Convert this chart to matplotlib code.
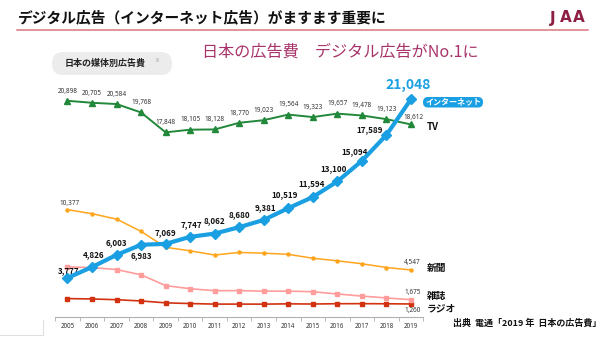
import matplotlib
matplotlib.use("Agg")
import matplotlib.pyplot as plt
from matplotlib.patches import FancyBboxPatch
from matplotlib.lines import Line2D

plt.rcParams['font.family'] = ['Noto Sans CJK JP', 'DejaVu Sans']

# data (dentsu, 100 million yen)
years = list(range(2005, 2020))
tv = [20898, 20705, 20584, 19768, 17848, 18105, 18128, 18770, 19023, 19564,
      19323, 19657, 19478, 19123, 18612]
internet = [3777, 4826, 6003, 6983, 7069, 7747, 8062, 8680, 9381, 10519,
            11594, 13100, 15094, 17589, 21048]
newspaper = [10377, 9986, 9462, 8276, 6739, 6396, 5990, 6242, 6170, 6057,
             5679, 5431, 5147, 4784, 4547]
magazine = [4842, 4777, 4585, 4078, 3034, 2733, 2542, 2551, 2499, 2500,
            2443, 2223, 2023, 1841, 1675]
radio = [1778, 1744, 1671, 1549, 1370, 1299, 1247, 1246, 1243, 1272,
         1254, 1285, 1290, 1278, 1260]

# label offsets for internet values (points)
net_off = [(1, 5), (1, 9), (0, 9), (0, -8), (0, 8), (1, 9), (0, 9), (0, 9),
           (1, 9), (-3, 10), (-1, 10), (-3, 9), (-5, 7), (-12, 4)]

W, H = 600, 338
fig = plt.figure(figsize=(W / 100, H / 100), dpi=100)
fig.patch.set_facecolor('white')
num_font = 'Noto Sans'
bold_font = 'Noto Sans CJK JP'


def fx(px):
    return px / W


def fy(py):
    return 1 - py / H


ax = fig.add_axes([fx(55.2), fy(317), 368 / W, 269 / H])
ax.set_facecolor('none')
ax.set_xlim(2004.5, 2019.5)
ax.set_ylim(0, 26000)
for s in ['top', 'right', 'left']:
    ax.spines[s].set_visible(False)
ax.spines['bottom'].set_color('#b0b0b0')
ax.spines['bottom'].set_linewidth(0.8)
ax.set_yticks([])
ax.set_xticks(years)
ax.set_xticklabels([str(y) for y in years], fontsize=4.5, color='#333333',
                   family=num_font)
ax.set_xticks([y - 0.5 for y in years] + [2019.5], minor=True)
ax.tick_params(axis='x', which='major', length=0, pad=4)
ax.tick_params(axis='x', which='minor', length=3, color='#b0b0b0', width=0.6)

green = '#22883a'
blue = '#1aa0e2'
orange = '#ffa51c'
pink = '#ff9c9c'
red = '#d2320f'

ax.plot(years, radio, color=red, lw=1.2, marker='s', ms=2.8, zorder=2)
ax.plot(years, magazine, color=pink, lw=1.2, marker='s', ms=2.8, zorder=2)
ax.plot(years, newspaper, color=orange, lw=1.1, marker='o', ms=2.2, zorder=2)
ax.plot(years, tv, color=green, lw=1.4, marker='^', ms=3.8, zorder=3)
ax.plot(years, internet, color=blue, lw=3.0, marker='D', ms=5, zorder=4)

# TV values
for x, v in zip(years, tv):
    dx = 1.5 if x == 2019 else 0
    dy = 5 if x == 2019 else 7
    ax.annotate(f'{v:,}', (x, v), xytext=(dx, dy), textcoords='offset points',
                ha='center', va='center', fontsize=4.6, color='#333333',
                family=num_font)

# internet values
for (x, v), (dx, dy) in zip(zip(years[:-1], internet[:-1]), net_off):
    ax.annotate(f'{v:,}', (x, v), xytext=(dx, dy), textcoords='offset points',
                ha='center', va='center', fontsize=5.8, fontweight='bold',
                color='#111111', family=bold_font)
ax.annotate(f'{internet[-1]:,}', (years[-1], internet[-1]), xytext=(-2, 10),
            textcoords='offset points', ha='center', va='center',
            fontsize=10, fontweight='bold', color=blue, family=bold_font)

# end values of other media
small = dict(textcoords='offset points', ha='center', va='center',
             fontsize=4.6, color='#333333', family=num_font)
ax.annotate(f'{newspaper[0]:,}', (years[0], newspaper[0]), xytext=(1.5, 4.5), **small)
ax.annotate(f'{newspaper[-1]:,}', (years[-1], newspaper[-1]), xytext=(1, 5.5), **small)
ax.annotate(f'{magazine[-1]:,}', (years[-1], magazine[-1]), xytext=(1, 5), **small)
ax.annotate(f'{radio[-1]:,}', (years[-1], radio[-1]), xytext=(1, -4.5), **small)

# series names
name_kw = dict(fontsize=7, fontweight='bold', color='#111111', ha='left', va='center')
fig.text(fx(427), fy(127), 'TV', **name_kw)
fig.text(fx(427), fy(268), '新聞', **name_kw)
fig.text(fx(427), fy(296), '雑誌', **name_kw)
fig.text(fx(427), fy(308), 'ラジオ', **name_kw)

# internet badge
fig.patches.append(FancyBboxPatch((4.23, (H - 107.5) / 100), 0.60, 0.105,
                                  boxstyle='round,pad=0,rounding_size=0.05',
                                  transform=fig.dpi_scale_trans,
                                  fc=blue, ec='none', zorder=5))
fig.text(fx(453), fy(102), 'インターネット', fontsize=5.8, fontweight='bold',
         color='white', ha='center', va='center', zorder=6)

# header
fig.text(fx(18), fy(17), 'デジタル広告（インターネット広告）がますます重要に',
         fontsize=10.6, fontweight='bold', color='#111111', ha='left', va='center')
for px, ch in zip([553, 566, 579], 'JAA'):
    fig.text(fx(px), fy(18), ch, fontsize=11, fontweight='heavy', color='#8e1f44',
             ha='center', va='center', family='DejaVu Sans')
fig.lines.append(Line2D([fx(17), fx(588)], [fy(29.5), fy(29.5)],
                        transform=fig.transFigure, color='#d9777f', lw=1.1))
fig.text(fx(202), fy(52), '日本の広告費\u3000デジタル広告がNo.1に', fontsize=11.6,
         color='#a8336a', ha='left', va='center')

# label pill
fig.patches.append(FancyBboxPatch((0.52, (H - 75) / 100), 1.20, 0.23,
                                  boxstyle='round,pad=0,rounding_size=0.11',
                                  transform=fig.dpi_scale_trans,
                                  fc='#ececec', ec='none'))
fig.text(fx(65), fy(63.5), '日本の媒体別広告費', fontsize=6.5, fontweight='bold',
         color='#222222', ha='left', va='center')
fig.text(fx(154), fy(61), '※', fontsize=3.5, color='#999999', ha='left', va='center')

# source
fig.text(fx(453), fy(323), '出典  電通「2019 年  日本の広告費」', fontsize=6.5,
         fontweight='bold', color='#111111', ha='left', va='center')

# faint panel corner bottom-left
fig.lines.append(Line2D([fx(43), fx(43), fx(0)], [fy(320), fy(335), fy(335)],
                        transform=fig.transFigure, color='#e0e0e0', lw=0.8))

fig.savefig('out.png', dpi=100)
